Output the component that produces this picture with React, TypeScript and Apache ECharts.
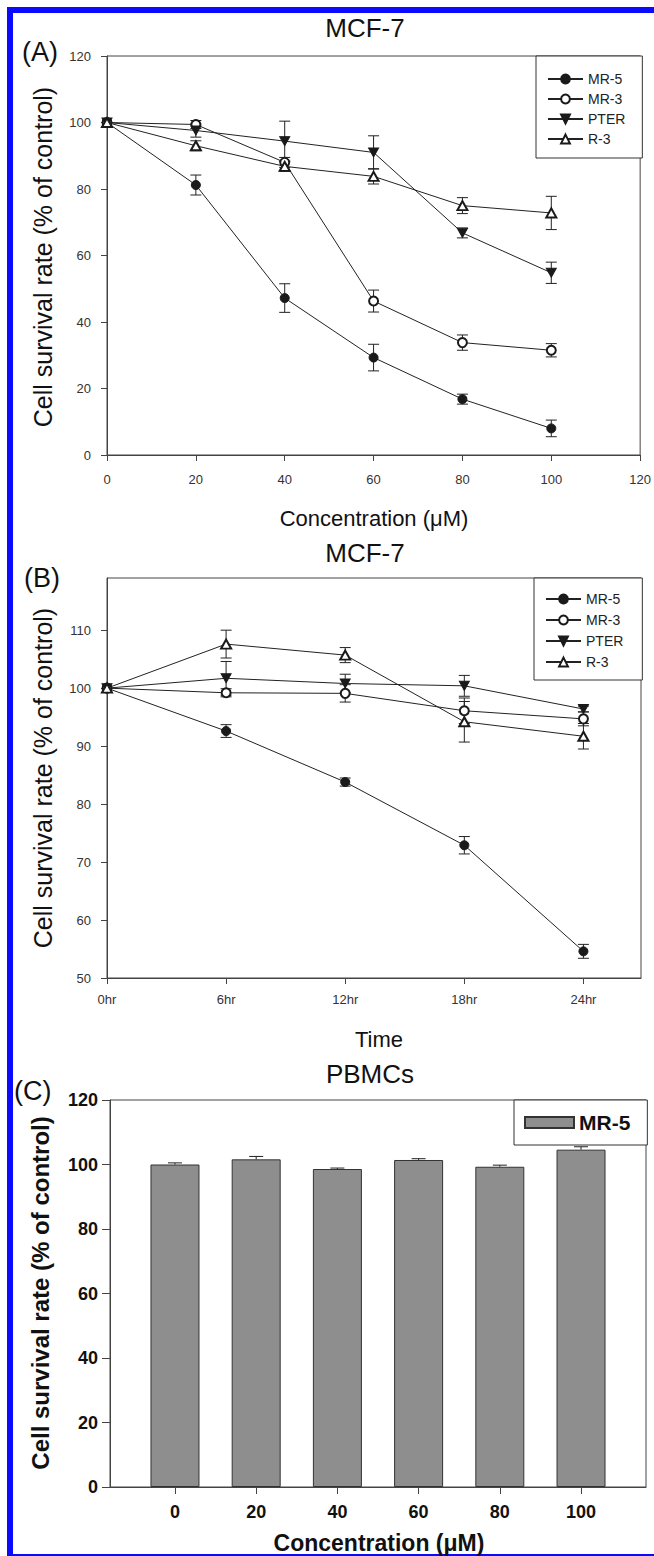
import React, { useEffect, useRef } from "react";
import * as echarts from "echarts";

// ---------------- data ----------------
const concentrations = [0, 20, 40, 60, 80, 100];
const compoundNames = ["MR-5", "MR-3", "PTER", "R-3"];

// Panel A: MCF-7, survival vs concentration (uM)
const mr5A = [100, 81.2, 47.2, 29.3, 16.8, 8.0];
const mr5AErr = [0, 3.0, 4.3, 4.0, 1.5, 2.5];
const mr3A = [100, 99.4, 88.0, 46.3, 33.8, 31.5];
const mr3AErr = [0, 1.2, 1.5, 3.3, 2.3, 2.0];
const pterA = [100, 97.6, 94.4, 91.0, 66.8, 54.8];
const pterAErr = [0, 2.0, 6.0, 5.0, 1.5, 3.2];
const r3A = [100, 93.0, 86.8, 83.8, 75.0, 72.8];
const r3AErr = [0, 1.5, 1.5, 2.3, 2.4, 5.0];
const xTicksA = [0, 20, 40, 60, 80, 100, 120];
const yTicksA = [0, 20, 40, 60, 80, 100, 120];

// Panel B: MCF-7, survival vs time
const timeHours = [0, 6, 12, 18, 24];
const timeLabels = ["0hr", "6hr", "12hr", "18hr", "24hr"];
const mr5B = [100, 92.6, 83.8, 72.9, 54.6];
const mr5BErr = [0, 1.1, 0.7, 1.5, 1.2];
const mr3B = [100, 99.2, 99.1, 96.1, 94.7];
const mr3BErr = [0, 0.7, 1.5, 2.2, 1.2];
const pterB = [100, 101.7, 100.8, 100.4, 96.4];
const pterBErr = [0, 2.9, 1.6, 1.8, 0.5];
const r3B = [100, 107.6, 105.7, 94.2, 91.7];
const r3BErr = [0, 2.4, 1.3, 3.5, 2.2];
const yTicksB = [50, 60, 70, 80, 90, 100, 110];

// Panel C: PBMCs, MR-5 bars
const pbmcMR5 = [100.0, 101.6, 98.6, 101.4, 99.3, 104.6];
const pbmcMR5Err = [0.5, 0.9, 0.3, 0.4, 0.5, 0.9];
const yTicksC = [0, 20, 40, 60, 80, 100, 120];

// ---------------- styling ----------------
const FONT = "'Liberation Sans', Arial, Helvetica, sans-serif";
const INK = "#1a1a1a";
const AXIS = "#444";

const symbolFor: Record<string, string> = {
  "MR-5": "circle",
  "MR-3": "emptyCircle",
  PTER: "path://M0,0L10,0L5,9Z",
  "R-3": "emptyTriangle",
};
const symbolSizeFor: Record<string, any> = {
  "MR-5": 9,
  "MR-3": 9,
  PTER: [10, 9],
  "R-3": [10, 9],
};

function lineSeries(name: string, xs: number[], ys: number[], axisIndex: number) {
  return {
    type: "line",
    name,
    xAxisIndex: axisIndex,
    yAxisIndex: axisIndex,
    data: xs.map((x, i) => [x, ys[i]]),
    symbol: symbolFor[name],
    symbolSize: symbolSizeFor[name],
    showAllSymbol: true,
    lineStyle: { color: "#222", width: 1 },
    itemStyle: { color: INK, borderColor: INK, borderWidth: 1 },
    z: 3,
  };
}

function errorSeries(id: string, xs: number[], ys: number[], errs: number[], axisIndex: number, upOnly: boolean, halfCap: number) {
  return {
    type: "custom",
    name: id,
    xAxisIndex: axisIndex,
    yAxisIndex: axisIndex,
    z: upOnly ? 4 : 2,
    silent: true,
    encode: { x: 0, y: 1 },
    data: xs.map((x, i) => [x, ys[i], errs[i]]),
    renderItem: (_params: any, api: any) => {
      const x = api.value(0);
      const y = api.value(1);
      const e = api.value(2);
      if (!e) return null;
      const top = api.coord([x, y + e]);
      const bot = api.coord(upOnly ? [x, y] : [x, y - e]);
      const st = { stroke: "#222", lineWidth: 1 };
      const children: any[] = [
        { type: "line", shape: { x1: top[0], y1: top[1], x2: bot[0], y2: bot[1] }, style: st },
        { type: "line", shape: { x1: top[0] - halfCap, y1: top[1], x2: top[0] + halfCap, y2: top[1] }, style: st },
      ];
      if (!upOnly) {
        children.push({ type: "line", shape: { x1: bot[0] - halfCap, y1: bot[1], x2: bot[0] + halfCap, y2: bot[1] }, style: st });
      }
      return { type: "group", children };
    },
  };
}

function valueAxis(gridIndex: number, min: number, max: number, ticks: number[], opts: any = {}) {
  return {
    type: "value",
    gridIndex,
    min,
    max,
    splitLine: { show: false },
    axisLine: { show: true, onZero: false, lineStyle: { color: AXIS, width: 1 } },
    axisTick: { show: true, inside: false, length: opts.tickLen ?? 6, customValues: ticks, lineStyle: { color: AXIS, width: 1 } },
    axisLabel: {
      customValues: ticks,
      margin: opts.margin ?? 16,
      color: opts.bold ? "#111" : "#333",
      fontSize: opts.fontSize ?? 13,
      fontWeight: opts.bold ? "bold" : "normal",
      fontFamily: FONT,
      formatter: opts.formatter,
    },
  };
}

function text(t: string, x: number, y: number, fontSize: number, opts: any = {}) {
  return {
    type: "text",
    x,
    y,
    rotation: opts.rot ?? 0,
    silent: true,
    style: {
      text: t,
      fontSize,
      fontFamily: FONT,
      fontWeight: opts.bold ? "bold" : "normal",
      fill: "#111",
      align: opts.align ?? "center",
      verticalAlign: "middle",
    },
  };
}

function legendBox(left: number, top: number, padding: number[], itemGap: number) {
  return {
    orient: "vertical",
    left,
    top,
    padding,
    itemGap,
    itemWidth: 35,
    itemHeight: 11,
    data: compoundNames,
    borderColor: "#333",
    borderWidth: 1,
    borderRadius: 0,
    backgroundColor: "#fff",
    selectedMode: false,
    textStyle: { fontSize: 14, color: "#222", fontFamily: FONT },
  };
}

export default function App() {
  const ref = useRef<HTMLDivElement>(null);

  useEffect(() => {
    document.body.style.margin = "0";
    if (!ref.current) return;
    const chart = echarts.init(ref.current, null, { renderer: "svg" });

    const seriesA = [
      lineSeries("MR-5", concentrations, mr5A, 0),
      lineSeries("MR-3", concentrations, mr3A, 0),
      lineSeries("PTER", concentrations, pterA, 0),
      lineSeries("R-3", concentrations, r3A, 0),
      errorSeries("errA1", concentrations, mr5A, mr5AErr, 0, false, 5.5),
      errorSeries("errA2", concentrations, mr3A, mr3AErr, 0, false, 5.5),
      errorSeries("errA3", concentrations, pterA, pterAErr, 0, false, 5.5),
      errorSeries("errA4", concentrations, r3A, r3AErr, 0, false, 5.5),
    ];
    const seriesB = [
      lineSeries("MR-5", timeHours, mr5B, 1),
      lineSeries("MR-3", timeHours, mr3B, 1),
      lineSeries("PTER", timeHours, pterB, 1),
      lineSeries("R-3", timeHours, r3B, 1),
      errorSeries("errB1", timeHours, mr5B, mr5BErr, 1, false, 5.5),
      errorSeries("errB2", timeHours, mr3B, mr3BErr, 1, false, 5.5),
      errorSeries("errB3", timeHours, pterB, pterBErr, 1, false, 5.5),
      errorSeries("errB4", timeHours, r3B, r3BErr, 1, false, 5.5),
    ];
    const seriesC = [
      {
        type: "bar",
        name: "MR-5 PBMCs",
        xAxisIndex: 2,
        yAxisIndex: 2,
        barWidth: 49,
        data: concentrations.map((c, i) => [c, pbmcMR5[i]]),
        itemStyle: { color: "#8e8e8e", borderColor: "#333", borderWidth: 1 },
        z: 2,
      },
      errorSeries("errC", concentrations, pbmcMR5, pbmcMR5Err, 2, true, 7),
    ];

    const blue = "#0a0aff";

    chart.setOption({
      animation: false,
      backgroundColor: "#fff",
      textStyle: { fontFamily: FONT },
      grid: [
        { left: 107, top: 56, width: 534, height: 399, show: true, borderColor: AXIS, borderWidth: 1, backgroundColor: "transparent" },
        { left: 107, top: 578, width: 534, height: 400, show: true, borderColor: AXIS, borderWidth: 1, backgroundColor: "transparent" },
        { left: 110, top: 1100, width: 536, height: 387, show: true, borderColor: AXIS, borderWidth: 1, backgroundColor: "transparent" },
      ],
      xAxis: [
        valueAxis(0, 0, 120, xTicksA, { margin: 18 }),
        valueAxis(1, 0, 26.9, timeHours, {
          margin: 15,
          formatter: (v: number) => timeLabels[timeHours.indexOf(v)] ?? "",
        }),
        valueAxis(2, -16, 116, concentrations, { margin: 16, bold: true, fontSize: 18, tickLen: 7 }),
      ],
      yAxis: [
        valueAxis(0, 0, 120, yTicksA, { margin: 16 }),
        valueAxis(1, 50, 119, yTicksB, { margin: 16 }),
        valueAxis(2, 0, 120, yTicksC, { margin: 12, bold: true, fontSize: 18, tickLen: 8 }),
      ],
      legend: [
        legendBox(536, 56, [16, 17, 12, 11], 6),
        legendBox(534, 578, [14, 19, 11, 11], 7),
        {
          orient: "vertical",
          left: 514,
          top: 1100,
          padding: [12, 17, 12, 10],
          itemWidth: 49,
          itemHeight: 11,
          icon: "rect",
          data: ["MR-5 PBMCs"],
          formatter: () => "MR-5",
          borderColor: "#333",
          borderWidth: 1,
          borderRadius: 0,
          backgroundColor: "#fff",
          selectedMode: false,
          textStyle: { fontSize: 21, fontWeight: "bold", color: "#111", fontFamily: FONT },
        },
      ],
      series: [...seriesA, ...seriesB, ...seriesC],
      graphic: [
        { type: "rect", silent: true, shape: { x: 7, y: 7, width: 6, height: 1549 }, style: { fill: blue } },
        { type: "rect", silent: true, shape: { x: 7, y: 7, width: 647, height: 6 }, style: { fill: blue } },
        { type: "rect", silent: true, shape: { x: 7, y: 1554, width: 647, height: 2 }, style: { fill: blue } },
        // panel letters
        text("(A)", 22, 52, 27, { align: "left" }),
        text("(B)", 24, 578, 27, { align: "left" }),
        text("(C)", 14, 1091, 27, { align: "left" }),
        // titles
        text("MCF-7", 365, 28, 26),
        text("MCF-7", 365, 553, 26),
        text("PBMCs", 370, 1074, 26),
        // axis titles
        text("Cell survival rate (% of control)", 43, 257, 25, { rot: Math.PI / 2 }),
        text("Concentration (\u03bcM)", 374, 518, 22),
        text("Cell survival rate (% of control)", 43, 778, 25, { rot: Math.PI / 2 }),
        text("Time", 379, 1039, 22),
        text("Cell survival rate (% of control)", 40, 1293, 24, { rot: Math.PI / 2, bold: true }),
        text("Concentration (\u03bcM)", 379, 1543, 23, { bold: true }),
      ],
    } as any);

    return () => chart.dispose();
  }, []);

  return <div ref={ref} style={{ width: 654, height: 1556 }} />;
}
